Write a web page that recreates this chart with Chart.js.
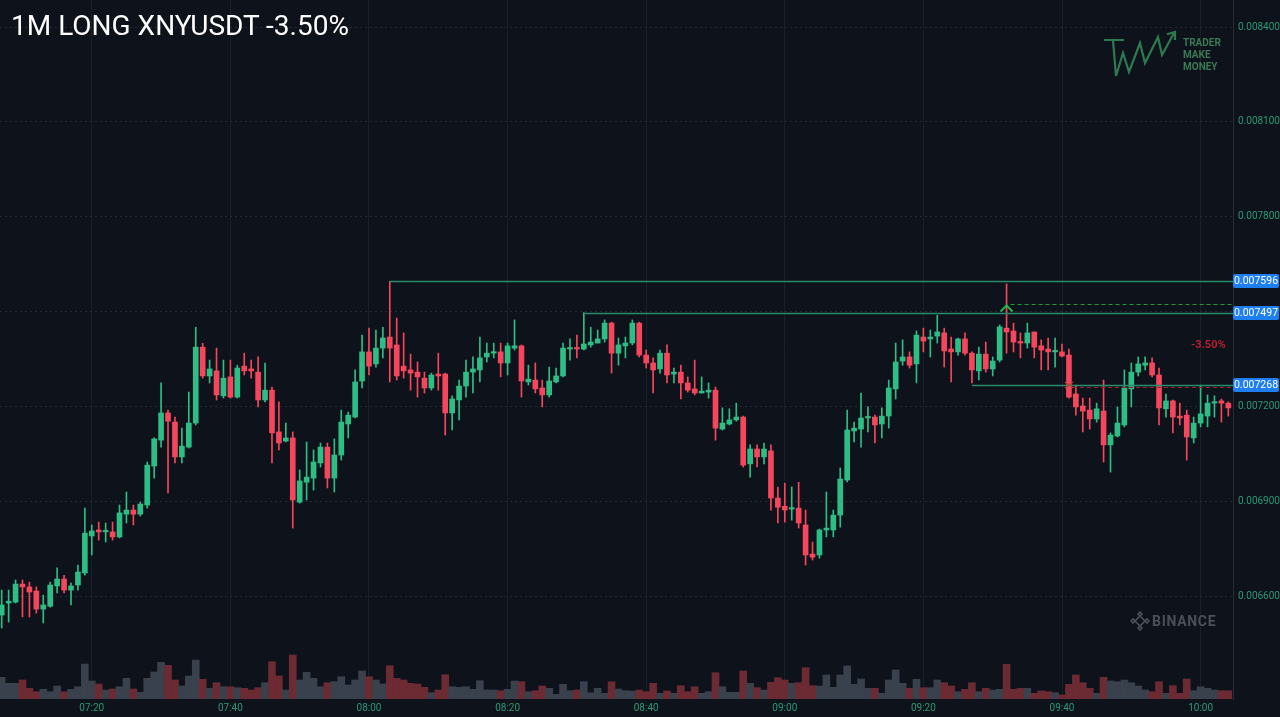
<!DOCTYPE html>
<html>
<head>
<meta charset="utf-8">
<script src="https://cdn.jsdelivr.net/npm/chart.js@4.4.1/dist/chart.umd.min.js"></script>
<style>
html,body{margin:0;padding:0;background:#0e121b;overflow:hidden;}
#wrap{position:relative;width:1280px;height:717px;background:#0e121b;}
canvas{display:block;position:absolute;left:0;top:0;}
.ov{position:absolute;white-space:nowrap;font-family:Roboto,"Noto Sans",sans-serif;}
</style>
</head>
<body>
<div id="wrap">
<canvas id="c" width="1280" height="717"></canvas>
<div class="ov" style="left:11px;top:12px;font-size:28px;line-height:28px;color:#ffffff;font-weight:400;">1M LONG XNYUSDT -3.50%</div>
<svg class="ov" style="left:0;top:0;" width="1280" height="717" viewBox="0 0 1280 717">
  <g fill="none" stroke="#2e7a50" stroke-width="2.2" stroke-linejoin="miter" stroke-linecap="square">
    <path d="M1105 40 L1123 40 M1113 40 L1116 76 L1123 53 L1129 72 L1140 43 L1145 63 L1158 37 L1162 55 L1174 33"/>
    <path d="M1168 34 L1175 32 L1175 39"/>
  </g>
  <g fill="none" stroke="#4b5058" stroke-width="1.6">
    <path d="M1140 616 L1145 621 L1140 626 L1135 621 Z"/>
    <path d="M1140 612 L1142 614 L1140 616 L1138 614 Z M1131 621 L1133 619 L1135 621 L1133 623 Z M1149 621 L1147 619 L1145 621 L1147 623 Z M1140 630 L1142 628 L1140 626 L1138 628 Z"/>
  </g>
</svg>
<div class="ov" style="left:1183px;top:37px;font-size:10px;line-height:12px;color:#3b7a55;font-weight:700;">TRADER<br>MAKE<br>MONEY</div>
<div class="ov" style="left:1152px;top:612px;font-size:14px;line-height:18px;color:#4b5058;font-weight:700;letter-spacing:0.7px;">BINANCE</div>
<div class="ov" style="left:1191px;top:338px;font-size:11px;line-height:14px;color:#b4202f;font-weight:700;">-3.50%</div>
</div>
<script>
// minute index 0 = 07:07
const xTickIndex = [13, 33, 53, 73, 93, 113, 133, 153, 173];
const xTickLabels = ['07:20','07:40','08:00','08:20','08:40','09:00','09:20','09:40','10:00'];
const priceTicks = [0.0066, 0.0069, 0.0072, 0.0075, 0.0078, 0.0081, 0.0084];

const opens = [
0.006541,0.006579,0.006582,0.006639,0.006630,0.006617,0.006560,0.006569,0.006633,0.006655,
0.006620,0.006636,0.006674,0.006791,0.006810,0.006804,0.006804,0.006788,0.006860,0.006873,
0.006860,0.006889,0.007012,0.007094,0.007180,0.007151,0.007041,0.007072,0.007148,0.007388,
0.007297,0.007313,0.007234,0.007294,0.007230,0.007328,0.007319,0.007309,0.007221,0.007252,
0.007120,0.007091,0.007101,0.006898,0.006961,0.006974,0.007022,0.007072,0.006974,0.007047,
0.007145,0.007167,0.007281,0.007373,0.007335,0.007385,0.007420,0.007395,0.007328,0.007316,
0.007309,0.007290,0.007259,0.007303,0.007303,0.007180,0.007221,0.007265,0.007309,0.007316,
0.007357,0.007369,0.007373,0.007338,0.007385,0.007392,0.007278,0.007284,0.007259,0.007237,
0.007278,0.007297,0.007382,0.007385,0.007382,0.007395,0.007401,0.007414,0.007464,0.007369,
0.007392,0.007401,0.007464,0.007363,0.007338,0.007319,0.007369,0.007303,0.007309,0.007275,
0.007256,0.007243,0.007246,0.007252,0.007129,0.007145,0.007158,0.007167,0.007019,0.007066,
0.007041,0.007060,0.006911,0.006885,0.006876,0.006879,0.006826,0.006734,0.006731,0.006810,
0.006810,0.006857,0.006968,0.007123,0.007129,0.007164,0.007167,0.007145,0.007170,0.007256,
0.007344,0.007357,0.007335,0.007420,0.007414,0.007423,0.007433,0.007382,0.007373,0.007414,
0.007369,0.007313,0.007366,0.007319,0.007347,0.007448,0.007439,0.007404,0.007401,0.007436,
0.007392,0.007382,0.007373,0.007373,0.007363,0.007240,0.007202,0.007189,0.007161,0.007186,
0.007079,0.007107,0.007142,0.007256,0.007309,0.007331,0.007338,0.007300,0.007193,0.007218,
0.007170,0.007173,0.007101,0.007148,0.007170,0.007211,0.007218,0.007211];

const highs = [
0.006620,0.006620,0.006652,0.006652,0.006645,0.006630,0.006604,0.006645,0.006690,0.006667,
0.006642,0.006699,0.006879,0.006826,0.006835,0.006832,0.006835,0.006889,0.006930,0.006889,
0.006898,0.007025,0.007101,0.007275,0.007189,0.007167,0.007132,0.007246,0.007451,0.007400,
0.007347,0.007385,0.007347,0.007347,0.007331,0.007369,0.007347,0.007357,0.007338,0.007262,
0.007215,0.007148,0.007120,0.007000,0.007088,0.007063,0.007085,0.007085,0.007098,0.007189,
0.007183,0.007316,0.007426,0.007448,0.007442,0.007451,0.007596,0.007480,0.007433,0.007366,
0.007341,0.007309,0.007306,0.007369,0.007306,0.007234,0.007284,0.007347,0.007357,0.007420,
0.007401,0.007401,0.007401,0.007401,0.007474,0.007395,0.007331,0.007338,0.007284,0.007325,
0.007322,0.007401,0.007414,0.007426,0.007497,0.007451,0.007442,0.007474,0.007467,0.007417,
0.007420,0.007474,0.007467,0.007379,0.007354,0.007379,0.007395,0.007322,0.007331,0.007294,
0.007347,0.007294,0.007275,0.007262,0.007196,0.007193,0.007211,0.007170,0.007079,0.007079,
0.007085,0.007079,0.006946,0.006958,0.006946,0.006961,0.006873,0.006772,0.006813,0.006930,
0.006873,0.007006,0.007189,0.007151,0.007243,0.007199,0.007173,0.007196,0.007284,0.007401,
0.007411,0.007373,0.007439,0.007448,0.007442,0.007489,0.007448,0.007420,0.007417,0.007433,
0.007373,0.007388,0.007404,0.007357,0.007458,0.007588,0.007464,0.007433,0.007464,0.007436,
0.007411,0.007417,0.007417,0.007398,0.007382,0.007268,0.007227,0.007227,0.007211,0.007284,
0.007117,0.007199,0.007316,0.007338,0.007357,0.007357,0.007354,0.007322,0.007240,0.007221,
0.007211,0.007189,0.007167,0.007268,0.007237,0.007234,0.007224,0.007215];

const lows = [
0.006500,0.006519,0.006579,0.006535,0.006535,0.006547,0.006516,0.006566,0.006611,0.006611,
0.006573,0.006620,0.006667,0.006731,0.006778,0.006772,0.006778,0.006785,0.006832,0.006826,
0.006854,0.006879,0.006974,0.007072,0.006927,0.007022,0.007022,0.007069,0.007142,0.007290,
0.007275,0.007221,0.007227,0.007227,0.007227,0.007300,0.007290,0.007199,0.007215,0.007022,
0.007063,0.007088,0.006816,0.006895,0.006905,0.006936,0.007009,0.006943,0.006930,0.007031,
0.007101,0.007164,0.007259,0.007300,0.007325,0.007354,0.007278,0.007284,0.007290,0.007252,
0.007230,0.007243,0.007252,0.007252,0.007110,0.007126,0.007158,0.007230,0.007243,0.007278,
0.007341,0.007354,0.007294,0.007300,0.007379,0.007230,0.007268,0.007243,0.007199,0.007230,
0.007275,0.007294,0.007347,0.007354,0.007379,0.007388,0.007401,0.007404,0.007306,0.007331,
0.007354,0.007395,0.007357,0.007322,0.007243,0.007306,0.007275,0.007275,0.007224,0.007246,
0.007237,0.007243,0.007227,0.007094,0.007126,0.007142,0.007154,0.007009,0.006977,0.007009,
0.007019,0.006873,0.006832,0.006835,0.006841,0.006816,0.006699,0.006715,0.006721,0.006788,
0.006788,0.006819,0.006962,0.007088,0.007072,0.007120,0.007085,0.007101,0.007132,0.007224,
0.007331,0.007322,0.007275,0.007373,0.007357,0.007401,0.007325,0.007278,0.007363,0.007363,
0.007275,0.007284,0.007309,0.007297,0.007341,0.007369,0.007373,0.007354,0.007385,0.007354,
0.007316,0.007316,0.007325,0.007357,0.007227,0.007173,0.007120,0.007129,0.007151,0.007025,
0.006993,0.007104,0.007136,0.007199,0.007297,0.007316,0.007294,0.007142,0.007167,0.007117,
0.007142,0.007031,0.007085,0.007136,0.007136,0.007167,0.007151,0.007170];

const closes = [
0.006573,0.006585,0.006639,0.006630,0.006614,0.006560,0.006573,0.006636,0.006655,0.006620,
0.006633,0.006677,0.006800,0.006807,0.006804,0.006807,0.006788,0.006864,0.006873,0.006860,
0.006892,0.007015,0.007098,0.007180,0.007154,0.007041,0.007075,0.007148,0.007388,0.007297,
0.007319,0.007237,0.007290,0.007230,0.007322,0.007313,0.007313,0.007221,0.007252,0.007117,
0.007085,0.007101,0.006905,0.006965,0.006977,0.007025,0.007072,0.006974,0.007047,0.007151,
0.007173,0.007278,0.007373,0.007328,0.007385,0.007417,0.007385,0.007297,0.007313,0.007306,
0.007294,0.007259,0.007300,0.007297,0.007180,0.007224,0.007265,0.007309,0.007319,0.007354,
0.007369,0.007373,0.007338,0.007392,0.007392,0.007281,0.007287,0.007256,0.007237,0.007281,
0.007297,0.007385,0.007385,0.007382,0.007398,0.007404,0.007414,0.007464,0.007369,0.007395,
0.007401,0.007464,0.007363,0.007338,0.007316,0.007369,0.007300,0.007309,0.007275,0.007252,
0.007243,0.007249,0.007252,0.007132,0.007148,0.007158,0.007167,0.007015,0.007066,0.007041,
0.007066,0.006911,0.006882,0.006873,0.006879,0.006832,0.006731,0.006724,0.006810,0.006816,
0.006857,0.006971,0.007126,0.007132,0.007164,0.007167,0.007142,0.007170,0.007259,0.007341,
0.007357,0.007331,0.007426,0.007407,0.007420,0.007436,0.007376,0.007373,0.007414,0.007369,
0.007316,0.007366,0.007319,0.007344,0.007452,0.007436,0.007404,0.007401,0.007433,0.007388,
0.007379,0.007373,0.007376,0.007360,0.007230,0.007199,0.007186,0.007161,0.007193,0.007079,
0.007110,0.007148,0.007259,0.007309,0.007335,0.007338,0.007300,0.007196,0.007218,0.007167,
0.007164,0.007104,0.007148,0.007177,0.007211,0.007215,0.007211,0.007196];

const volumes = [
217,157,157,190,107,73,97,73,130,73,
97,123,350,180,150,90,100,123,207,100,
67,207,270,367,337,190,130,230,390,197,
107,163,123,123,113,107,90,113,163,373,
230,90,440,190,267,207,123,163,173,223,
140,190,280,223,190,150,333,207,190,157,
150,117,63,90,243,123,117,123,97,183,
90,90,83,97,180,173,73,83,130,107,
47,147,83,90,173,63,107,57,173,100,
83,80,90,73,157,57,80,57,133,73,
123,57,73,263,123,67,67,280,157,113,
90,167,213,190,157,163,313,133,130,240,
117,240,330,147,200,107,107,57,190,290,
157,107,197,113,113,190,163,130,73,97,
163,73,107,90,97,347,97,107,107,57,
80,73,63,40,147,240,163,107,57,217,
180,173,190,163,130,90,73,173,57,133,
57,200,83,123,107,90,83,83];

// price levels of the trade
const levelPrices = [0.007596, 0.007497, 0.007268];
const levelStartIndex = [56, 84, 140];
const targetPrice = 0.007523;
const targetStartIndex = 145;
const stopPrice = 0.007262;
const stopStartIndex = 154;

const UP = '#2ebd85', DOWN = '#f6465d';
const VOL_UP = '#39414d', VOL_DOWN = '#6c2a33';
const idx = opens.map((_, i) => i);
const isUp = idx.map(i => closes[i] >= opens[i]);

const overlay = {
  id: 'overlay',
  afterDatasetsDraw(chart) {
    const {ctx, chartArea: a, scales: {x, y}} = chart;
    ctx.save();
    ctx.lineWidth = 1.3;
    ctx.strokeStyle = '#2b8a6c';
    levelPrices.forEach((p, i) => {
      const py = Math.round(y.getPixelForValue(p)) + 0.5;
      const px = x.getPixelForValue(levelStartIndex[i]);
      ctx.beginPath(); ctx.moveTo(px, py); ctx.lineTo(a.right, py); ctx.stroke();
    });
    // target (dashed green)
    let py = Math.round(y.getPixelForValue(targetPrice)) + 0.5;
    let px = x.getPixelForValue(targetStartIndex);
    ctx.setLineDash([4, 3]);
    ctx.strokeStyle = '#1f9a3e';
    ctx.lineWidth = 1;
    ctx.beginPath(); ctx.moveTo(px + 4, py); ctx.lineTo(a.right, py); ctx.stroke();
    // stop (dashed red)
    const sy = Math.round(y.getPixelForValue(stopPrice)) + 0.5;
    const sx = x.getPixelForValue(stopStartIndex);
    ctx.strokeStyle = '#9c1f2c';
    ctx.beginPath(); ctx.moveTo(sx + 4, sy); ctx.lineTo(a.right, sy); ctx.stroke();
    ctx.setLineDash([]);
    // entry chevron
    ctx.strokeStyle = '#22b44a';
    ctx.lineWidth = 2;
    ctx.beginPath(); ctx.moveTo(px - 6, py + 7); ctx.lineTo(px, py + 1); ctx.lineTo(px + 6, py + 7); ctx.stroke();
    // stop cross
    const cy = y.getPixelForValue(levelPrices[2]);
    ctx.strokeStyle = '#c2402a';
    ctx.lineWidth = 1.2;
    ctx.beginPath();
    ctx.moveTo(sx - 4, cy - 3); ctx.lineTo(sx + 4, cy + 3);
    ctx.moveTo(sx - 4, cy + 3); ctx.lineTo(sx + 4, cy - 3);
    ctx.stroke();
    ctx.restore();
  },
  afterDraw(chart) {
    const {ctx, chartArea: a, scales: {y}} = chart;
    ctx.save();
    ctx.font = '10.5px Roboto, "Noto Sans", sans-serif';
    ctx.textAlign = 'center';
    ctx.textBaseline = 'middle';
    levelPrices.forEach(p => {
      const py = Math.round(y.getPixelForValue(p));
      ctx.fillStyle = '#1e7ff0';
      ctx.beginPath();
      ctx.roundRect(a.right, py - 7, 46, 14, 2);
      ctx.fill();
      ctx.fillStyle = '#ffffff';
      ctx.fillText(p.toFixed(6), a.right + 23, py + 0.5);
    });
    ctx.restore();
  }
};

new Chart(document.getElementById('c'), {
  type: 'bar',
  data: {
    datasets: [
      {
        label: 'Volume',
        yAxisID: 'yv',
        data: idx.map(i => ({x: i, y: volumes[i]})),
        backgroundColor: idx.map(i => isUp[i] ? VOL_UP : VOL_DOWN),
        barThickness: 7,
        grouped: false,
        order: 3
      },
      {
        label: 'Wick',
        yAxisID: 'y',
        data: idx.map(i => ({x: i, y: [lows[i], highs[i]]})),
        backgroundColor: idx.map(i => isUp[i] ? UP : DOWN),
        barThickness: 1,
        maxBarThickness: 1,
        grouped: false,
        order: 2
      },
      {
        label: 'Body',
        yAxisID: 'y',
        data: idx.map(i => ({x: i, y: [opens[i], closes[i]]})),
        backgroundColor: idx.map(i => isUp[i] ? UP : DOWN),
        barThickness: 5,
        maxBarThickness: 5,
        minBarLength: 1.5,
        grouped: false,
        order: 1
      }
    ]
  },
  options: {
    responsive: false,
    animation: false,
    events: [],
    layout: {padding: 0},
    plugins: {legend: {display: false}, tooltip: {enabled: false}},
    scales: {
      x: {
        type: 'linear',
        min: -0.245,
        max: 177.675,
        offset: false,
        grid: {color: '#1a1f29', offset: false, drawTicks: false},
        border: {display: false},
        afterBuildTicks: s => { s.ticks = xTickIndex.map(v => ({value: v})); },
        afterFit: s => { s.height = 18; s.paddingLeft = 0; s.paddingRight = 0; },
        ticks: {
          autoSkip: false, maxRotation: 0, padding: 3,
          color: '#2b9a74',
          font: {family: 'Roboto', size: 10},
          callback: v => xTickLabels[xTickIndex.indexOf(v)]
        }
      },
      y: {
        type: 'linear',
        position: 'right',
        min: 0.0062757,
        max: 0.0084854,
        grid: {color: '#252a35', drawTicks: false},
        border: {display: true, color: '#262b35', dash: [2, 3]},
        afterBuildTicks: s => { s.ticks = priceTicks.map(v => ({value: v})); },
        afterFit: s => { s.width = 47; s.paddingTop = 0; s.paddingBottom = 0; },
        ticks: {
          padding: 5,
          color: '#2b9a74',
          font: {family: 'Roboto', size: 10},
          callback: v => v.toFixed(6)
        }
      },
      yv: {
        type: 'linear',
        display: false,
        min: 0,
        max: 6990
      }
    }
  },
  plugins: [overlay]
});
</script>
</body>
</html>
